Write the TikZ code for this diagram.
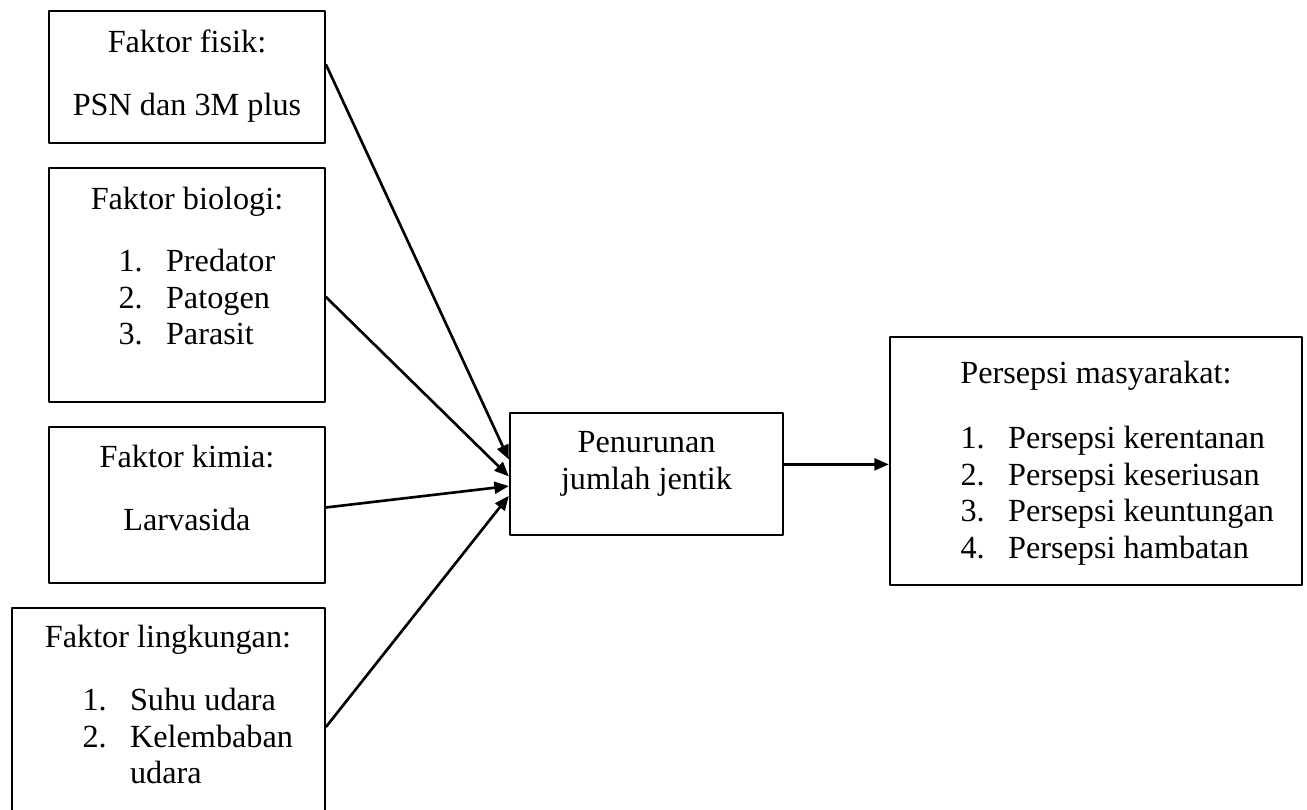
\documentclass[tikz,border=0pt]{standalone}
\usepackage{fontspec}
\setmainfont{Liberation Serif}
\usetikzlibrary{arrows.meta,fit}
\newcommand{\daftar}[1]{\begin{tabular}[t]{@{}p{18pt}@{}l@{}}#1\end{tabular}}
\begin{document}
\begin{tikzpicture}[line cap=round,line join=round,>={Triangle[length=5.5pt,width=4.5pt]},x=0.3785pt,y=-0.3785pt,font=\fontsize{12.2}{14}\selectfont,
  kotak/.style={draw,line width=0.85pt,inner sep=0pt,fit={#1}},
  judul/.style={anchor=base,inner sep=0pt},
  isi/.style={anchor=base west,inner sep=0pt},
  panah/.style={->,line width=1pt}]
\clip (0,0) rectangle (1307,809);
\node[kotak={(49,11) (325,143)}] (fisik) {};
\node[judul] (fisikjudul) at (187,52) {Faktor fisik:};
\node[judul] (fisikisi) at (187,115) {PSN dan 3M plus};
\node[kotak={(49,168) (325,402)}] (biologi) {};
\node[judul] (biologijudul) at (187,209) {Faktor biologi:};
\node[isi] (biologiisi) at (118,271) {\daftar{1. & Predator\\ 2. & Patogen\\ 3. & Parasit}};
\node[kotak={(49,427) (325,583)}] (kimia) {};
\node[judul] (kimiajudul) at (187,467) {Faktor kimia:};
\node[judul] (kimiaisi) at (187,530) {Larvasida};
\node[kotak={(12,608) (325,840)}] (lingkungan) {};
\node[judul] (lingkunganjudul) at (168,647) {Faktor lingkungan:};
\node[isi] (lingkunganisi) at (82,710) {\daftar{1. & Suhu udara\\ 2. & Kelembaban\\ & udara}};
\node[kotak={(510,413) (783,535)}] (jentik) {};
\node[judul] (jentikisi) at (646.5,452) {\begin{tabular}[t]{@{}c@{}}Penurunan\\ jumlah jentik\end{tabular}};
\node[kotak={(890,337) (1302,585)}] (persepsi) {};
\node[judul] (persepsijudul) at (1096,383) {Persepsi masyarakat:};
\node[isi] (persepsiisi) at (960,448) {\daftar{1. & Persepsi kerentanan\\ 2. & Persepsi keseriusan\\ 3. & Persepsi keuntungan\\ 4. & Persepsi hambatan}};
\draw[panah] (fisik.5) -- (jentik.174.6);
\draw[panah] (biologi.-5.8) -- (jentik.181.3);
\draw[panah] (kimia.-1.7) -- (jentik.185.9);
\draw[panah] (lingkungan.-1.5) -- (jentik.189.2);
\draw[panah] (jentik.4.6) -- (jentik.4.6 -| persepsi.west);
\end{tikzpicture}
\end{document}
